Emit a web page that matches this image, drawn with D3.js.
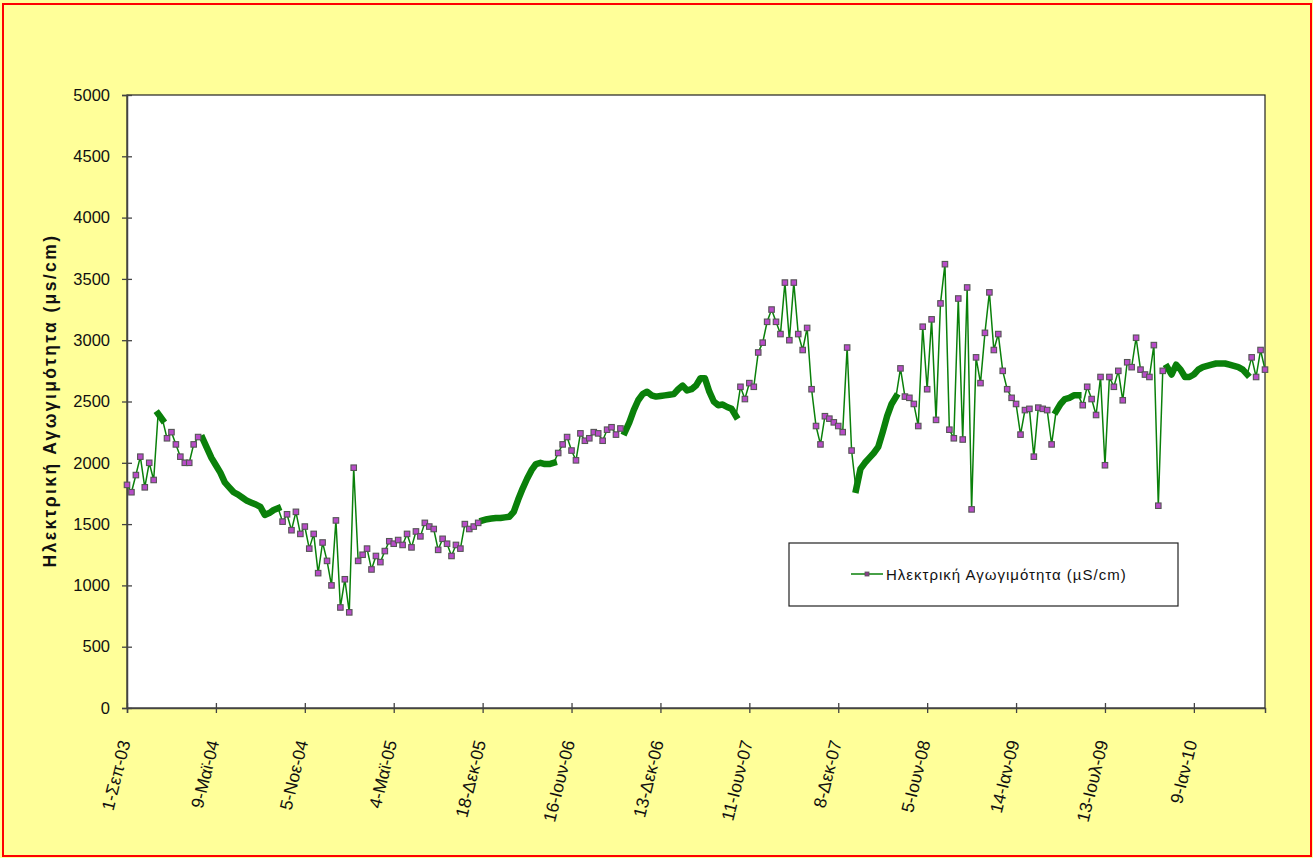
<!DOCTYPE html>
<html>
<head>
<meta charset="utf-8">
<script src="https://cdn.jsdelivr.net/npm/d3@7"></script>
<style>
  html, body { margin: 0; padding: 0; background: #FFFF99; }
  svg { display: block; }
  text { font-family: Arial, "Liberation Sans", sans-serif; fill: #111; }
</style>
</head>
<body>
<svg id="chart" width="1313" height="858"></svg>
<script>
// ---- Data (one value per sampled date, category axis) ----
const tickLabels = ["1-Σεπ-03","9-Μαϊ-04","5-Νοε-04","4-Μαϊ-05","18-Δεκ-05","16-Ιουν-06",
  "13-Δεκ-06","11-Ιουν-07","8-Δεκ-07","5-Ιουν-08","14-Ιαν-09","13-Ιουλ-09","9-Ιαν-10"];
const pointsPerLabel = 20;
const conductivity = [
  1820,1760,1900,2050,1800,2000,1860,2400,2350,2200,
  2250,2150,2050,2000,2000,2150,2210,2200,2120,2040,
  1980,1920,1840,1800,1760,1740,1715,1690,1675,1660,
  1640,1575,1590,1615,1630,1520,1580,1450,1600,1420,
  1480,1300,1420,1100,1350,1200,1000,1530,820,1050,
  780,1960,1200,1250,1300,1130,1240,1190,1280,1360,
  1340,1370,1330,1420,1310,1440,1400,1510,1480,1460,
  1290,1380,1340,1240,1330,1300,1500,1460,1480,1510,
  1530,1540,1545,1550,1550,1555,1560,1600,1700,1790,
  1870,1940,1990,2000,1990,1990,2000,2080,2150,2210,
  2100,2020,2240,2180,2200,2250,2240,2180,2270,2290,
  2230,2280,2250,2330,2430,2510,2560,2580,2550,2540,
  2545,2550,2555,2560,2600,2630,2590,2600,2630,2690,
  2690,2580,2500,2470,2475,2455,2440,2380,2620,2520,
  2650,2620,2900,2980,3150,3250,3150,3050,3470,3000,
  3470,3050,2920,3100,2600,2300,2150,2380,2360,2330,
  2300,2250,2940,2100,1780,1950,2000,2040,2080,2130,
  2250,2380,2480,2540,2770,2540,2530,2480,2300,3110,
  2600,3170,2350,3300,3620,2270,2200,3340,2190,3430,
  1620,2860,2650,3060,3390,2920,3050,2750,2600,2530,
  2480,2230,2430,2440,2050,2450,2440,2430,2150,2420,
  2480,2520,2530,2550,2550,2470,2620,2520,2390,2700,
  1980,2700,2620,2750,2510,2820,2780,3020,2760,2720,
  2700,2960,1650,2750,2780,2720,2800,2760,2700,2700,
  2720,2760,2780,2790,2800,2810,2810,2810,2800,2790,
  2780,2760,2720,2860,2700,2920,2760
];
// index ranges of densely sampled (continuous) stretches
const denseSpans = [[7,8],[17,34],[80,96],[112,137],[164,173],[209,214],[234,252]];
const yTicks = [0,500,1000,1500,2000,2500,3000,3500,4000,4500,5000];
const yTitle = "Ηλεκτρική Αγωγιμότητα (μs/cm)";
const legendLabel = "Ηλεκτρική Αγωγιμότητα (µS/cm)";

// ---- Layout ----
const svg = d3.select("#chart");
const W = 1313, H = 858;
const plot = {left: 127, right: 1265, top: 95, bottom: 708};
const lineColor = "#0a800a";

svg.append("rect").attr("x",0).attr("y",0).attr("width",W).attr("height",H).attr("fill","#FFFF99");
svg.append("rect").attr("x",3).attr("y",4).attr("width",W-5).attr("height",H-6)
  .attr("fill","none").attr("stroke","#ff0000").attr("stroke-width",2);

const x = d3.scaleLinear().domain([0, conductivity.length-1]).range([plot.left, plot.right]);
const y = d3.scaleLinear().domain([0, 5000]).range([plot.bottom, plot.top]);

svg.append("rect").attr("x",plot.left).attr("y",plot.top)
  .attr("width",plot.right-plot.left).attr("height",plot.bottom-plot.top)
  .attr("fill","#fff").attr("stroke","#222").attr("stroke-width",1.2);

// Y axis
const yAxis = svg.append("g").attr("transform",`translate(${plot.left},0)`)
  .call(d3.axisLeft(y).tickValues(yTicks).tickSize(5).tickPadding(12).tickFormat(d3.format("d")));
yAxis.select(".domain").attr("stroke","#444").attr("stroke-width",1.5);
yAxis.selectAll(".tick line").attr("x2",5).attr("x1",-5).attr("stroke","#444").attr("stroke-width",1.3);
yAxis.selectAll(".tick text").style("font-size","16.5px").attr("fill","#222");

// X axis
const xTickIdx = tickLabels.map((_,i)=>i*pointsPerLabel);
const xAxis = svg.append("g").attr("transform",`translate(0,${plot.bottom})`)
  .call(d3.axisBottom(x).tickValues(xTickIdx).tickSize(5).tickFormat((d,i)=>tickLabels[i]));
xAxis.select(".domain").attr("stroke","#444").attr("stroke-width",1.5);
xAxis.selectAll(".tick line").attr("y1",-5).attr("y2",5).attr("stroke","#444").attr("stroke-width",1.3);
xAxis.selectAll(".tick text")
  .style("font-size","17.5px").attr("fill","#222")
  .attr("text-anchor","end").attr("dy",0).attr("y",0)
  .attr("transform","translate(3,34) rotate(-76)");

// Y title
svg.append("text").attr("transform",`translate(56,${(plot.top+plot.bottom)/2-1}) rotate(-90)`)
  .attr("text-anchor","middle").style("font-size","17.5px").style("font-weight","bold")
  .style("letter-spacing","2.4px")
  .text(yTitle);

// Series
const g = svg.append("g");
const line = d3.line().x((d,i)=>x(i)).y(d=>y(d));
g.append("path").datum(conductivity).attr("d",line)
  .attr("fill","none").attr("stroke",lineColor).attr("stroke-width",1.5);
const isDense = i => denseSpans.some(([a,b]) => i>=a && i<=b);
denseSpans.forEach(([a,b]) => {
  const seg = d3.range(a,b+1);
  g.append("path").datum(seg)
    .attr("d", d3.line().x(i=>x(i)).y(i=>y(conductivity[i])))
    .attr("fill","none").attr("stroke",lineColor).attr("stroke-width",6.5)
    .attr("stroke-linejoin","round").attr("stroke-linecap","square");
});
const ms = 5.5;
g.selectAll("rect.m").data(conductivity.map((v,i)=>({v,i})).filter(d=>!isDense(d.i)))
  .join("rect").attr("class","m")
  .attr("x",d=>x(d.i)-ms/2).attr("y",d=>y(d.v)-ms/2)
  .attr("width",ms).attr("height",ms)
  .attr("fill","#b84cc8").attr("stroke","#555").attr("stroke-width",1.1);

// Legend
const lg = svg.append("g").attr("transform","translate(789,543)");
lg.append("rect").attr("width",389).attr("height",63).attr("fill","#fff")
  .attr("stroke","#222").attr("stroke-width",1.2);
lg.append("line").attr("x1",62).attr("x2",94).attr("y1",31).attr("y2",31)
  .attr("stroke",lineColor).attr("stroke-width",1.5);
lg.append("rect").attr("x",76).attr("y",29).attr("width",4).attr("height",4)
  .attr("fill","#8a3f8a").attr("stroke","#555").attr("stroke-width",0.8);
lg.append("text").attr("x",97).attr("y",37).style("font-size","15px").attr("fill","#222")
  .style("letter-spacing","1px")
  .text(legendLabel);
</script>
</body>
</html>
